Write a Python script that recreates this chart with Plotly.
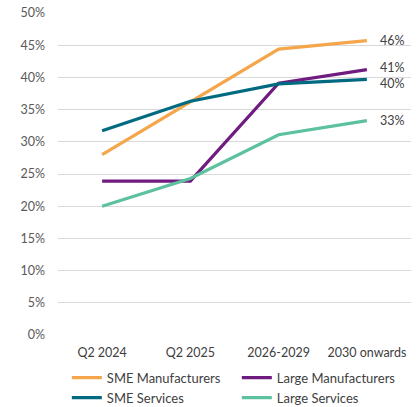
import plotly.graph_objects as go

categories = ["Q2 2024", "Q2 2025", "2026-2029", "2030 onwards"]
series_names = ["SME Manufacturers", "Large Manufacturers", "SME Services", "Large Services"]
sme_manufacturers = [0.280, 0.362, 0.444, 0.457]
large_manufacturers = [0.239, 0.239, 0.391, 0.412]
sme_services = [0.317, 0.363, 0.390, 0.397]
large_services = [0.200, 0.243, 0.311, 0.333]
y_ticks = [i * 0.05 for i in range(11)]
y_tick_labels = [f"{int(round(v * 100))}%" for v in y_ticks]

colors = ["#F5A54A", "#6F1B7F", "#006A80", "#5CC19E"]
end_label_yshift = [0, 2, -4, 0]
values = [sme_manufacturers, large_manufacturers, sme_services, large_services]

FONT = "Lato"
fig = go.Figure()
for name, vals, col in zip(series_names, values, colors):
    fig.add_trace(go.Scatter(x=categories, y=vals, mode="lines", name=name,
                             line=dict(color=col, width=3.2)))

for vals, ys in zip(values, end_label_yshift):
    fig.add_annotation(x=categories[-1], y=vals[-1], text=f"{round(vals[-1] * 100):.0f}%",
                       showarrow=False, xanchor="left", xshift=11, yshift=ys,
                       font=dict(family=FONT, size=12.5, color="#404040"))

fig.update_layout(
    width=417, height=407,
    margin=dict(l=58, r=6, t=13, b=72, autoexpand=False),
    paper_bgcolor="white", plot_bgcolor="white",
    font=dict(family=FONT, size=12, color="#595959"),
    showlegend=True,
    legend=dict(orientation="h", x=0.025, xanchor="left", y=-0.086, yanchor="top",
                entrywidth=125, entrywidthmode="pixels",
                font=dict(family=FONT, size=13, color="#404040"),
                itemwidth=30, tracegroupgap=0),
    xaxis=dict(showgrid=False, showline=False, zeroline=False, ticks="",
               range=[-0.5, 3.5],
               tickfont=dict(family=FONT, size=12.5, color="#404040"),
               ticklabelstandoff=8),
    yaxis=dict(range=[0, 0.5], tickvals=y_ticks, ticktext=y_tick_labels,
               showgrid=True, gridcolor="#D9D9D9", gridwidth=1, zeroline=False,
               tickfont=dict(family=FONT, size=12.5, color="#595959"),
               ticklabelstandoff=12),
)
fig.write_html("out.html")
